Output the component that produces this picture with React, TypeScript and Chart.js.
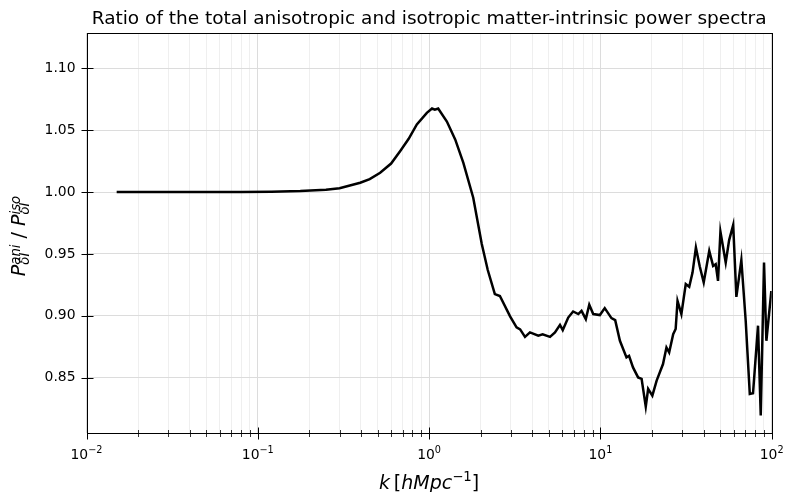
import React, { useEffect, useRef } from "react";
import { Chart, registerables } from "chart.js";

Chart.register(...registerables);

// ---- data ----
const kValues: number[] = [
  0.015, 0.02, 0.03, 0.05, 0.08, 0.12, 0.177, 0.25, 0.3, 0.396, 0.45, 0.518, 0.6, 0.677, 0.76, 0.848,
  0.97, 1.04, 1.08, 1.13, 1.27, 1.42, 1.585, 1.81, 2.03, 2.2, 2.42, 2.59, 2.97, 3.24, 3.4, 3.63,
  3.88, 4.34, 4.6, 5.08, 5.43, 5.81, 6.03, 6.49, 6.93, 7.43, 7.76, 8.22, 8.61, 9.08, 9.93, 10.6,
  11.6, 12.2, 13.0, 14.2, 14.7, 15.5, 16.6, 17.4, 18.4, 19.0, 20.1, 21.3, 23.2, 24.3, 25.2, 26.6,
  27.5, 28.2, 29.7, 31.5, 33.0, 34.5, 36.1, 38.0, 40.1, 43.2, 45.5, 47.1, 48.6, 50.2, 53.9, 56.4,
  59.6, 62.2, 66.5, 70.5, 74.5, 77.8, 83.2, 86.3, 90.2, 93.1, 99.5,
];
const ratioValues: number[] = [
  1.0, 1.0, 1.0, 1.0, 1.0001, 1.0003, 1.0008, 1.0018, 1.003, 1.0075, 1.0105, 1.0156, 1.023, 1.033, 1.043, 1.0546,
  1.064, 1.0675, 1.0665, 1.0675, 1.057, 1.0425, 1.0236, 0.9954, 0.958, 0.937, 0.9175, 0.916, 0.8996, 0.8906, 0.889, 0.883,
  0.8866, 0.884, 0.885, 0.883, 0.8865, 0.8927, 0.8885, 0.8986, 0.9035, 0.9014, 0.904, 0.8973, 0.9089, 0.9014, 0.9006, 0.9062,
  0.8981, 0.8965, 0.8798, 0.8664, 0.8677, 0.8583, 0.8502, 0.849, 0.8266, 0.8409, 0.8355, 0.8476, 0.861, 0.8744, 0.8704, 0.8852,
  0.8893, 0.9121, 0.9014, 0.9256, 0.9234, 0.9349, 0.9551, 0.94, 0.9269, 0.9524, 0.9403, 0.9417, 0.9282, 0.968, 0.943, 0.961,
  0.9734, 0.9153, 0.945, 0.896, 0.8369, 0.8374, 0.892, 0.8194, 0.943, 0.8798, 0.92,
];

const xMajorTicks: number[] = [0.01, 0.1, 1, 10, 100];
const xMajorExponents: string[] = ["\u22122", "\u22121", "0", "1", "2"];
const xMinorMultipliers: number[] = [2, 3, 4, 5, 6, 7, 8, 9];
const yTicks: number[] = [0.85, 0.9, 0.95, 1.0, 1.05, 1.1];

const titleText = "Ratio of the total anisotropic and isotropic matter-intrinsic power spectra";

const FONT = "'DejaVu Sans', 'Noto Sans', sans-serif";

const allXTicks: number[] = (() => {
  const out: number[] = [];
  for (let i = 0; i < xMajorTicks.length; i++) {
    out.push(xMajorTicks[i]);
    if (i < xMajorTicks.length - 1) {
      for (const m of xMinorMultipliers) out.push(+(xMajorTicks[i] * m).toPrecision(6));
    }
  }
  return out;
})();

const isMajor = (v: number) => xMajorTicks.some((t) => Math.abs(t - v) / t < 1e-6);

type Piece = { text: string; size: number; italic?: boolean; dy?: number };

const font = (size: number, italic?: boolean) => `${italic ? "italic " : ""}${size}px ${FONT}`;

const overlayPlugin = {
  id: "overlay",
  afterDraw(chart: any) {
    const ctx: CanvasRenderingContext2D = chart.ctx;
    const { left, right, top, bottom } = chart.chartArea;
    const xs = chart.scales.x;
    const ys = chart.scales.y;
    ctx.save();

    // spines
    ctx.strokeStyle = "#000";
    ctx.lineWidth = 1;
    ctx.strokeRect(Math.round(left) + 0.5, Math.round(top) + 0.5, Math.round(right) - Math.round(left), Math.round(bottom) - Math.round(top));
    const by = Math.round(bottom) + 0.5;
    const lx = Math.round(left) + 0.5;

    // x ticks (inout)
    for (const v of allXTicks) {
      const px = Math.round(xs.getPixelForValue(v)) + 0.5;
      const major = isMajor(v);
      const half = major ? 6 : 3.5;
      ctx.lineWidth = major ? 1 : 0.8;
      ctx.beginPath();
      ctx.moveTo(px, by - half);
      ctx.lineTo(px, by + half);
      ctx.stroke();
    }
    // y ticks
    for (const v of yTicks) {
      const py = Math.round(ys.getPixelForValue(v)) + 0.5;
      ctx.lineWidth = 1;
      ctx.beginPath();
      ctx.moveTo(lx - 6, py);
      ctx.lineTo(lx + 6, py);
      ctx.stroke();
    }

    ctx.fillStyle = "#000";
    ctx.textBaseline = "alphabetic";
    ctx.textAlign = "left";

    // x tick labels: 10^n
    const mainSize = 13.9;
    const supSize = 9.7;
    xMajorTicks.forEach((v, i) => {
      const px = xs.getPixelForValue(v);
      ctx.font = font(mainSize);
      const w1 = ctx.measureText("10").width;
      ctx.font = font(supSize);
      const w2 = ctx.measureText(xMajorExponents[i]).width;
      const x0 = px - (w1 + w2) / 2;
      ctx.font = font(mainSize);
      ctx.fillText("10", x0, 458.5);
      ctx.font = font(supSize);
      ctx.fillText(xMajorExponents[i], x0 + w1, 452.5);
    });

    // title
    ctx.font = font(18.5);
    ctx.textAlign = "center";
    ctx.fillText(titleText, (left + right) / 2, 24);
    ctx.textAlign = "left";

    // x label: k [hMpc^{-1}]
    const M = 19;
    const s = 13.3;
    const xl: Piece[] = [
      { text: "k", size: M, italic: true },
      { text: "\u2009", size: M },
      { text: "[", size: M },
      { text: "hMpc", size: M, italic: true },
      { text: "\u22121", size: s, dy: -8 },
      { text: "]", size: M },
    ];
    let total = 0;
    const widths = xl.map((p) => {
      ctx.font = font(p.size, p.italic);
      const w = ctx.measureText(p.text).width;
      total += w;
      return w;
    });
    let cx = (left + right) / 2 - total / 2;
    xl.forEach((p, i) => {
      ctx.font = font(p.size, p.italic);
      ctx.fillText(p.text, cx, 489 + (p.dy || 0));
      cx += widths[i];
    });

    // y label: P^{ani}_{δI} / P^{iso}_{δI}
    ctx.save();
    ctx.translate(25, (top + bottom) / 2 + 3);
    ctx.rotate(-Math.PI / 2);
    type Group = { main?: Piece; sup?: Piece; sub?: Piece };
    const groups: Group[] = [
      { main: { text: "P", size: M, italic: true } },
      { sup: { text: "ani", size: s, italic: true, dy: -5 }, sub: { text: "\u03b4I", size: s, italic: true, dy: 3.5 } },
      { main: { text: " / ", size: M } },
      { main: { text: "P", size: M, italic: true } },
      { sup: { text: "iso", size: s, italic: true, dy: -5 }, sub: { text: "\u03b4I", size: s, italic: true, dy: 3.5 } },
    ];
    const gw = groups.map((g) => {
      let w = 0;
      for (const p of [g.main, g.sup, g.sub]) {
        if (!p) continue;
        ctx.font = font(p.size, p.italic);
        w = Math.max(w, ctx.measureText(p.text).width);
      }
      return w;
    });
    const gTotal = gw.reduce((a, b) => a + b, 0);
    let gx = -gTotal / 2;
    groups.forEach((g, i) => {
      for (const p of [g.main, g.sup, g.sub]) {
        if (!p) continue;
        ctx.font = font(p.size, p.italic);
        ctx.fillText(p.text, gx, p.dy || 0);
      }
      gx += gw[i];
    });
    ctx.restore();

    ctx.restore();
  },
};

export default function App() {
  const canvasRef = useRef<HTMLCanvasElement | null>(null);

  useEffect(() => {
    if (!canvasRef.current) return;
    const points = kValues.map((k, i) => ({ x: k, y: ratioValues[i] }));
    const chart = new Chart(canvasRef.current, {
      type: "line",
      data: {
        datasets: [
          {
            data: points,
            borderColor: "#000000",
            borderWidth: 2.5,
            pointRadius: 0,
            tension: 0,
            fill: false,
          },
        ],
      },
      options: {
        animation: false,
        responsive: false,
        devicePixelRatio: 1,
        layout: { padding: { left: 0, right: 13.3, top: 33, bottom: 0 } },
        plugins: {
          legend: { display: false },
          title: { display: false },
          tooltip: { enabled: false },
        },
        scales: {
          x: {
            type: "logarithmic",
            min: 0.01,
            max: 100,
            afterBuildTicks: (scale: any) => {
              scale.ticks = allXTicks.map((v) => ({ value: v, major: isMajor(v) }));
            },
            afterFit: (scale: any) => {
              scale.height = 59;
            },
            grid: {
              color: (c: any) => (c.tick && isMajor(c.tick.value) ? "#dcdcdc" : "#efefef"),
              lineWidth: 1,
              drawTicks: false,
            },
            border: { display: false },
            ticks: { display: false, autoSkip: false },
          },
          y: {
            type: "linear",
            min: 0.8053,
            max: 1.1285,
            afterBuildTicks: (scale: any) => {
              scale.ticks = yTicks.map((v) => ({ value: v }));
            },
            afterFit: (scale: any) => {
              scale.width = 86.5;
            },
            grid: { color: "#dcdcdc", lineWidth: 1, drawTicks: false },
            border: { display: false },
            ticks: {
              color: "#000",
              padding: 11,
              font: { family: FONT, size: 13.9 },
              callback: (v: any) => Number(v).toFixed(2),
            },
          },
        },
      },
      plugins: [overlayPlugin],
    } as any);
    return () => chart.destroy();
  }, []);

  return (
    <div style={{ position: "fixed", left: 0, top: 0, width: 785, height: 492, background: "#fff" }}>
      <canvas ref={canvasRef} width={785} height={492} style={{ width: 785, height: 492, display: "block" }} />
    </div>
  );
}
